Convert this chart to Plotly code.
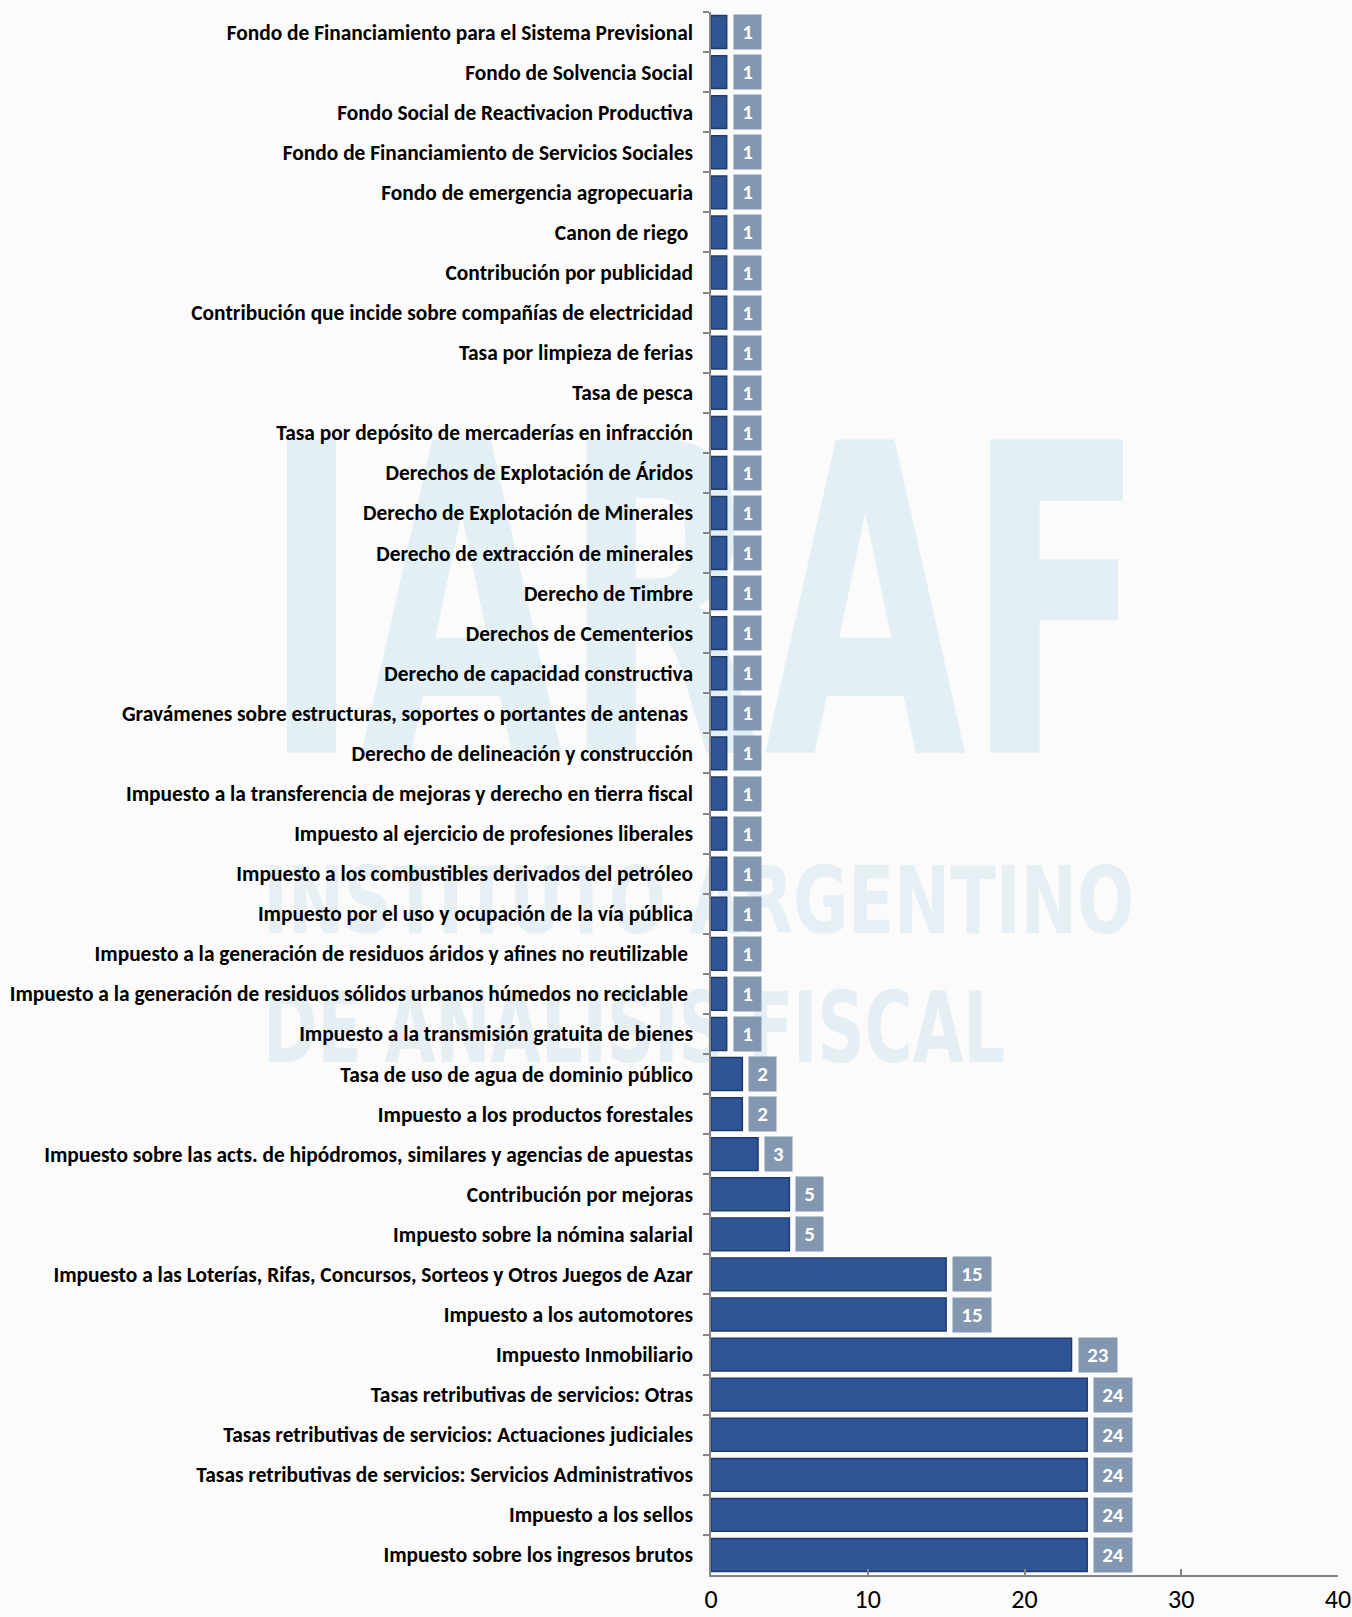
import base64
import plotly.graph_objects as go

categories = [
    "Fondo de Financiamiento para el Sistema Previsional",
    "Fondo de Solvencia Social",
    "Fondo Social de Reactivacion Productiva",
    "Fondo de Financiamiento de Servicios Sociales",
    "Fondo de emergencia agropecuaria",
    "Canon de riego\u00a0",
    "Contribución por publicidad",
    "Contribución que incide sobre compañías de electricidad",
    "Tasa por limpieza de ferias",
    "Tasa de pesca",
    "Tasa por depósito de mercaderías en infracción",
    "Derechos de Explotación de Áridos",
    "Derecho de Explotación de Minerales",
    "Derecho de extracción de minerales",
    "Derecho de Timbre",
    "Derechos de Cementerios",
    "Derecho de capacidad constructiva",
    "Gravámenes sobre estructuras, soportes o portantes de antenas\u00a0",
    "Derecho de delineación y construcción",
    "Impuesto a la transferencia de mejoras y derecho en tierra fiscal",
    "Impuesto al ejercicio de profesiones liberales",
    "Impuesto a los combustibles derivados del petróleo",
    "Impuesto por el uso y ocupación de la vía pública",
    "Impuesto a la generación de residuos áridos y afines no reutilizable\u00a0",
    "Impuesto a la generación de residuos sólidos urbanos húmedos no reciclable\u00a0",
    "Impuesto a la transmisión gratuita de bienes",
    "Tasa de uso de agua de dominio público",
    "Impuesto a los productos forestales",
    "Impuesto sobre las acts. de hipódromos, similares y agencias de apuestas",
    "Contribución por mejoras",
    "Impuesto sobre la nómina salarial",
    "Impuesto a las Loterías, Rifas, Concursos, Sorteos y Otros Juegos de Azar",
    "Impuesto a los automotores",
    "Impuesto Inmobiliario",
    "Tasas retributivas de servicios: Otras",
    "Tasas retributivas de servicios: Actuaciones judiciales",
    "Tasas retributivas de servicios: Servicios Administrativos",
    "Impuesto a los sellos",
    "Impuesto sobre los ingresos brutos",
]
values = [1] * 26 + [2, 2, 3, 5, 5, 15, 15, 23, 24, 24, 24, 24, 24]
x_ticks = [0, 10, 20, 30, 40]

W, H = 1352, 1617
ml, mr, mt, mb = 711, 14, 12, 42
pw, ph = W - ml - mr, H - mt - mb

LABEL_FONT = "Carlito, Calibri, Lato, sans-serif"

fig = go.Figure()
fig.add_trace(go.Bar(
    x=values, y=categories, orientation="h",
    marker=dict(color="#2f5597", line=dict(color="#1f3a6b", width=1.5)),
    hoverinfo="x+y",
))

for cat, v in zip(categories, values):
    txt = str(v)
    fig.add_annotation(
        x=v, y=cat, xref="x", yref="y", text="<b>%s</b>" % txt,
        showarrow=False, xanchor="left", yanchor="middle", xshift=6,
        bgcolor="#8497b0", font=dict(color="white", size=21, family=LABEL_FONT),
        width=17 if len(txt) == 1 else 28, height=24, borderpad=5,
        align="center",
    )

# faint watermark (logo) behind the chart
svg = f'''<svg xmlns="http://www.w3.org/2000/svg" width="{W}" height="{H}" viewBox="0 0 {W} {H}">
<text x="263" y="753" font-family="Liberation Sans Narrow, DejaVu Sans, sans-serif" font-weight="bold" font-size="430" fill="#e2eff4" textLength="882" lengthAdjust="spacingAndGlyphs">IARAF</text>
<text x="263" y="933" font-family="Liberation Sans Narrow, DejaVu Sans, sans-serif" font-weight="bold" font-size="92" fill="#e6eff3" textLength="871" lengthAdjust="spacingAndGlyphs">INSTITUTO ARGENTINO</text>
<text x="263" y="1062" font-family="Liberation Sans Narrow, DejaVu Sans, sans-serif" font-weight="bold" font-size="98" fill="#e4eef3" textLength="742" lengthAdjust="spacingAndGlyphs">DE ANALISIS FISCAL</text>
</svg>'''
src = "data:image/svg+xml;base64," + base64.b64encode(svg.encode("utf-8")).decode()
fig.add_layout_image(dict(
    source=src, xref="paper", yref="paper", x=-ml / pw, y=1 + mt / ph,
    sizex=W / pw, sizey=H / ph, xanchor="left", yanchor="top",
    sizing="stretch", layer="below", opacity=1,
))

fig.update_layout(
    width=W, height=H,
    margin=dict(l=ml, r=mr, t=mt, b=mb, pad=0, autoexpand=False),
    paper_bgcolor="#fbfbfb", plot_bgcolor="rgba(0,0,0,0)",
    showlegend=False, bargap=0.18,
    font=dict(family=LABEL_FONT, color="black"),
)
fig.update_xaxes(
    range=[0, 40], tickvals=x_ticks, ticktext=[str(t) for t in x_ticks],
    showgrid=False, zeroline=False, showline=True, linecolor="#868686", linewidth=1.5,
    ticks="inside", ticklen=6, tickcolor="#868686", tickwidth=1.5,
    tickfont=dict(size=26, family=LABEL_FONT, color="black"), ticklabelstandoff=0,
    automargin=False, ticklabeloverflow="allow",
)
fig.update_yaxes(
    categoryorder="array", categoryarray=categories, autorange="reversed",
    showgrid=False, zeroline=False, showline=True, linecolor="#868686", linewidth=1.5,
    ticks="outside", ticklen=6, tickcolor="#868686", tickwidth=1.5, tickson="boundaries",
    tickfont=dict(size=21.4, family=LABEL_FONT, color="black"), ticklabelstandoff=12,
    tickprefix="<b>", ticksuffix="</b>", automargin=False,
)

fig.write_html(
    "out.html",
    config={"displayModeBar": False},
    post_script="document.body.style.margin='0';document.body.style.background='#fbfbfb';",
)
